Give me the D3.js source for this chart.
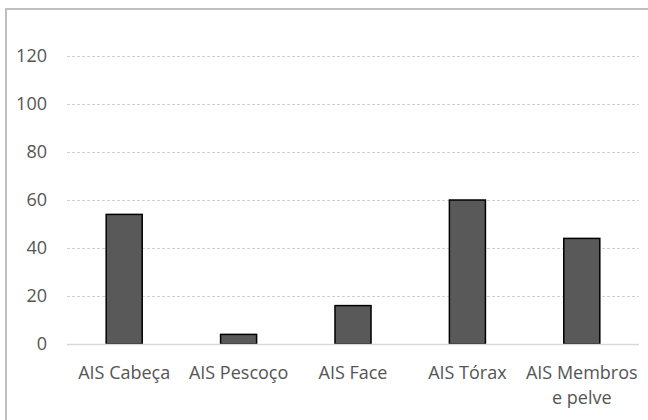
<!DOCTYPE html>
<html>
<head>
<meta charset="utf-8">
<script src="https://cdn.jsdelivr.net/npm/d3@7"></script>
<style>
  html, body { margin: 0; padding: 0; background: #fff; }
  svg { display: block; }
</style>
</head>
<body>
<svg id="chart" width="648" height="420"></svg>
<script>
// Categories (AIS body regions) and their values
const categories = ["AIS Cabeça", "AIS Pescoço", "AIS Face", "AIS Tórax", "AIS Membros e pelve"];
const categoryLines = [["AIS Cabeça"], ["AIS Pescoço"], ["AIS Face"], ["AIS Tórax"], ["AIS Membros", "e pelve"]];
const values = [54, 4, 16, 60, 44];
const yTicks = [0, 20, 40, 60, 80, 100, 120];

const svg = d3.select("#chart");
const W = 648, H = 420;
const margin = { left: 67, right: 9, top: 56, bottom: 76 };
const font = "'Open Sans', 'Liberation Sans', sans-serif";
const textColor = "#555555";

// Chart frame
svg.append("rect")
  .attr("x", 6).attr("y", 9)
  .attr("width", W + 10).attr("height", H + 10)
  .attr("fill", "#fff")
  .attr("stroke", "#bfbfbf")
  .attr("stroke-width", 2);

const x = d3.scaleBand()
  .domain(categories)
  .range([margin.left, W - margin.right])
  .paddingInner(0.685)
  .paddingOuter(0.3425);

const y = d3.scaleLinear()
  .domain([0, 120])
  .range([H - margin.bottom, margin.top]);

// Horizontal gridlines
svg.append("g")
  .selectAll("line")
  .data(yTicks.filter(d => d > 0))
  .join("line")
  .attr("x1", margin.left).attr("x2", W - margin.right)
  .attr("y1", d => Math.round(y(d)) + 0.5).attr("y2", d => Math.round(y(d)) + 0.5)
  .attr("stroke", "#d0d0d0")
  .attr("stroke-width", 1)
  .attr("stroke-dasharray", "3,2");

// Y axis labels
const yAxis = d3.axisLeft(y).tickValues(yTicks).tickSize(0).tickPadding(0);
const yg = svg.append("g")
  .attr("transform", `translate(${margin.left - 20},0)`)
  .call(yAxis);
yg.select(".domain").remove();
yg.selectAll("text")
  .attr("fill", textColor)
  .style("font-family", font)
  .style("font-size", "18px");

// Bars
svg.append("g")
  .selectAll("rect")
  .data(values)
  .join("rect")
  .attr("x", (d, i) => x(categories[i]))
  .attr("y", d => y(d))
  .attr("width", x.bandwidth())
  .attr("height", d => y(0) - y(d))
  .attr("fill", "#595959")
  .attr("stroke", "#000")
  .attr("stroke-width", 1.5);

// Baseline
svg.append("line")
  .attr("x1", margin.left).attr("x2", W - margin.right)
  .attr("y1", y(0) + 0.5).attr("y2", y(0) + 0.5)
  .attr("stroke", "#d9d9d9")
  .attr("stroke-width", 1.5);

// Category labels
const xg = svg.append("g");
categories.forEach((c, i) => {
  const t = xg.append("text")
    .attr("x", x(c) + x.bandwidth() / 2)
    .attr("y", y(0) + 35)
    .attr("text-anchor", "middle")
    .attr("fill", textColor)
    .style("font-family", font)
    .style("font-size", "18px");
  categoryLines[i].forEach((line, j) => {
    t.append("tspan")
      .attr("x", x(c) + x.bandwidth() / 2)
      .attr("dy", j === 0 ? 0 : 25)
      .text(line);
  });
});
</script>
</body>
</html>
